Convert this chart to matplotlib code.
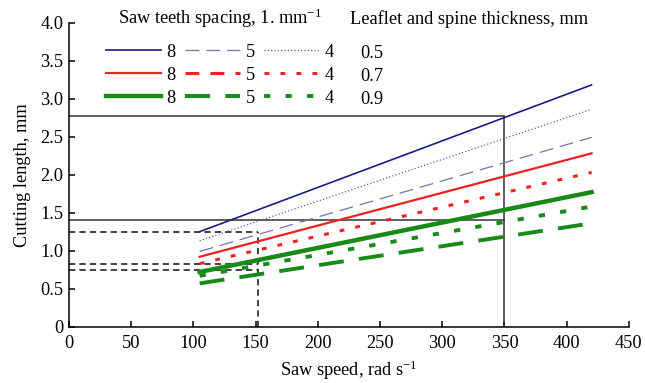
import numpy as np
import matplotlib
matplotlib.use('Agg')
import matplotlib.pyplot as plt
from matplotlib.lines import Line2D

plt.rcParams['font.family'] = ['Liberation Serif', 'DejaVu Serif']
plt.rcParams['mathtext.fontset'] = 'custom'
plt.rcParams['mathtext.rm'] = 'Liberation Serif'
plt.rcParams['mathtext.default'] = 'regular'
plt.rcParams['lines.scale_dashes'] = False

# 鋸速 (rad/s) 與切割長度 (mm)
saw_speed = [105, 420]
blue_8 = [1.25, 3.18]
blue_5 = [0.99, 2.49]
blue_4 = [1.13, 2.86]
red_8 = [0.92, 2.28]
red_4 = [0.83, 2.03]
green_8 = [0.72, 1.77]
green_5 = [0.57, 1.36]
green_4 = [0.67, 1.58]

# 參考線
ref_speed_solid = 350
ref_len_solid = [2.77, 1.40]
ref_speed_dash = 152
ref_len_dash = [1.25, 0.82, 0.75]

spacing_labels = ['8', '5', '4']
thickness_labels = ['0.5', '0.7', '0.9']

x_ticks = [0, 50, 100, 150, 200, 250, 300, 350, 400, 450]
y_ticks = [0, 0.5, 1.0, 1.5, 2.0, 2.5, 3.0, 3.5, 4.0]
y_tick_labels = ['0', '0.5', '1.0', '1.5', '2.0', '2.5', '3.0', '3.5', '4.0']

BLUE = '#1c1c86'
BLUE_L = '#7474ac'
BLUE_D = '#4a4a98'
RED = '#ee2222'
GREEN = '#178a17'
FS = 13.2

styles = {
    'b8': dict(color=BLUE, lw=1.2, ls='-'),
    'b5': dict(color=BLUE_L, lw=0.9, dashes=(10, 5)),
    'b4': dict(color=BLUE_D, lw=0.9, dashes=(0.8, 1.6)),
    'r8': dict(color=RED, lw=1.6, ls='-'),
    'r5': dict(color=RED, lw=2.2, dashes=(10, 8)),
    'r4': dict(color=RED, lw=2.2, dashes=(3.5, 8)),
    'g8': dict(color=GREEN, lw=3.2, ls='-'),
    'g5': dict(color=GREEN, lw=2.8, dashes=(18, 11)),
    'g4': dict(color=GREEN, lw=2.8, dashes=(4.5, 11)),
}

fig = plt.figure(figsize=(6.45, 3.83), dpi=100)
ax = fig.add_axes([0.107, 0.147, 0.868, 0.794])

# 參考線
for yv in ref_len_solid:
    ax.plot([0, ref_speed_solid], [yv, yv], color='#333333', lw=1.1)
ax.plot([ref_speed_solid, ref_speed_solid], [0, ref_len_solid[0]], color='#333333', lw=1.1)
for yv in ref_len_dash:
    ax.plot([0, ref_speed_dash], [yv, yv], color='#333333', lw=1.3, dashes=(4.5, 3))
ax.plot([ref_speed_dash, ref_speed_dash], [0, ref_len_dash[0]], color='#333333', lw=1.3, dashes=(4.5, 3))

# 曲線
ax.plot(saw_speed, blue_8, **styles['b8'])
ax.plot(saw_speed, blue_4, **styles['b4'])
ax.plot(saw_speed, blue_5, **styles['b5'])
ax.plot(saw_speed, red_8, **styles['r8'])
ax.plot(saw_speed, red_4, **styles['r4'])
ax.plot(saw_speed, green_8, **styles['g8'])
ax.plot(saw_speed, green_4, **styles['g4'])
ax.plot(saw_speed, green_5, **styles['g5'])

# 圖例
order = ['b8', 'r8', 'g8', 'b5', 'r5', 'g5', 'b4', 'r4', 'g4']
handles = [Line2D([], [], **styles[k]) for k in order]
labels = [spacing_labels[i // 3] for i in range(9)]
ax.legend(handles, labels, ncol=3, frameon=False, loc='upper left',
          bbox_to_anchor=(0.066, 0.93), borderpad=0, borderaxespad=0,
          handlelength=3.0, handletextpad=0.3, columnspacing=0.5,
          labelspacing=0.32, fontsize=FS)
for i, t in enumerate(thickness_labels):
    ax.text(243, 3.6 - i * 0.305, t, fontsize=FS, ha='center', va='center')
ax.text(39, 4.05, 'Saw teeth spacing, 1. mm$^{-1}$', fontsize=FS, va='center', clip_on=False)
ax.text(226, 4.05, 'Leaflet and spine thickness, mm', fontsize=FS, va='center', clip_on=False)

ax.set_xlim(0, 450)
ax.set_ylim(0, 4.0)
ax.set_xticks(x_ticks)
ax.set_yticks(y_ticks)
ax.set_yticklabels(y_tick_labels)
ax.tick_params(direction='in', length=4, width=1.1, labelsize=FS)
ax.tick_params(axis='x', pad=6)
ax.tick_params(axis='y', pad=4)
ax.spines['top'].set_visible(False)
ax.spines['right'].set_visible(False)
ax.spines['left'].set_linewidth(1.1)
ax.spines['bottom'].set_linewidth(1.1)

ax.set_xlabel('Saw speed, rad s$^{-1}$', fontsize=FS, labelpad=5)
ax.set_ylabel('Cutting length, mm', fontsize=FS, labelpad=7)

plt.savefig('out.png', dpi=100)
plt.close()
